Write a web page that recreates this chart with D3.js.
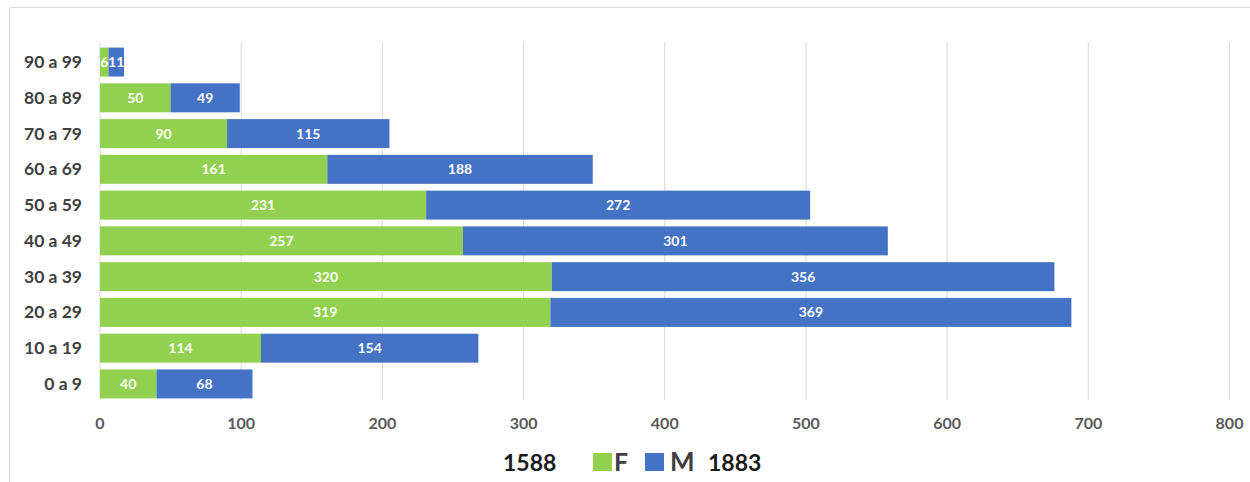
<!DOCTYPE html>
<html>
<head>
<meta charset="utf-8">
<script src="https://cdn.jsdelivr.net/npm/d3@7"></script>
<style>
  body { margin: 0; background: #fff; }
  text { font-family: Lato, "Open Sans", sans-serif; }
</style>
</head>
<body>
<script>
var w = 1250, h = 482;

// data
var ages = ["0 a 9", "10 a 19", "20 a 29", "30 a 39", "40 a 49", "50 a 59", "60 a 69", "70 a 79", "80 a 89", "90 a 99"];
var femmes = [40, 114, 319, 320, 257, 231, 161, 90, 50, 6];
var hommes = [68, 154, 369, 356, 301, 272, 188, 115, 49, 11];
var xTicks = [0, 100, 200, 300, 400, 500, 600, 700, 800];

var green = "#92d050", blue = "#4472c4";

var svg = d3.select("body").append("svg").attr("width", w).attr("height", h);

// outer frame
svg.append("path").attr("d", "M9.5," + h + "V7.5H" + w)
  .attr("fill", "none").attr("stroke", "#d9d9d9");

var x = d3.scaleLinear().domain([0, 800]).range([100, 1229.5]);
var y = d3.scaleBand().domain(ages.slice().reverse()).range([44, 402]).paddingInner(0.19).paddingOuter(0.1);

// gridlines
svg.append("g").selectAll("line").data(xTicks).enter().append("line")
  .attr("x1", function(d){ return x(d); }).attr("x2", function(d){ return x(d); })
  .attr("y1", 42).attr("y2", 400)
  .attr("stroke", "#d9d9d9").attr("stroke-width", 1);

// x axis labels
svg.append("g").selectAll("text").data(xTicks).enter().append("text")
  .attr("x", function(d){ return x(d); }).attr("y", 429)
  .attr("text-anchor", "middle").attr("font-size", 16).attr("font-weight", "bold")
  .attr("fill", "#595959").text(function(d){ return d; });

// category labels
svg.append("g").selectAll("text").data(ages).enter().append("text")
  .attr("x", 82).attr("y", function(d){ return y(d) + y.bandwidth() / 2 + 6; })
  .attr("text-anchor", "end").attr("font-size", 17.5).attr("font-weight", "bold")
  .attr("fill", "#404040").text(function(d){ return d; });

var rows = ages.map(function(a, i){ return { age: a, f: femmes[i], m: hommes[i] }; });

var gBars = svg.append("g");
gBars.selectAll("rect.f").data(rows).enter().append("rect").attr("class", "f")
  .attr("x", x(0)).attr("y", function(d){ return y(d.age); })
  .attr("width", function(d){ return x(d.f) - x(0); })
  .attr("height", y.bandwidth()).attr("fill", green);
gBars.selectAll("rect.m").data(rows).enter().append("rect").attr("class", "m")
  .attr("x", function(d){ return x(d.f); }).attr("y", function(d){ return y(d.age); })
  .attr("width", function(d){ return x(d.f + d.m) - x(d.f); })
  .attr("height", y.bandwidth()).attr("fill", blue);

// value labels
gBars.selectAll("text.f").data(rows).enter().append("text")
  .attr("x", function(d){ return x(d.f / 2); })
  .attr("y", function(d){ return y(d.age) + y.bandwidth() / 2 + 5; })
  .attr("text-anchor", "middle").attr("font-size", 14).attr("font-weight", "bold")
  .attr("fill", "#fff").text(function(d){ return d.f; });
gBars.selectAll("text.m").data(rows).enter().append("text")
  .attr("x", function(d){ return x(d.f + d.m / 2); })
  .attr("y", function(d){ return y(d.age) + y.bandwidth() / 2 + 5; })
  .attr("text-anchor", "middle").attr("font-size", 14).attr("font-weight", "bold")
  .attr("fill", "#fff").text(function(d){ return d.m; });

// legend
var lg = svg.append("g");
lg.append("text").attr("x", 503).attr("y", 471).attr("font-size", 23).attr("font-weight", "bold")
  .attr("fill", "#1a1a1a").text(d3.sum(femmes));
lg.append("rect").attr("x", 593).attr("y", 453).attr("width", 19).attr("height", 18).attr("fill", green);
lg.append("text").attr("x", 614).attr("y", 471).attr("font-size", 25).attr("font-weight", "bold")
  .attr("fill", "#404040").text("F");
lg.append("rect").attr("x", 645).attr("y", 453).attr("width", 19).attr("height", 18).attr("fill", blue);
lg.append("text").attr("x", 670).attr("y", 471).attr("font-size", 26).attr("font-weight", "bold")
  .attr("fill", "#404040").text("M");
lg.append("text").attr("x", 708).attr("y", 471).attr("font-size", 23).attr("font-weight", "bold")
  .attr("fill", "#1a1a1a").text(d3.sum(hommes));
</script>
</body>
</html>
